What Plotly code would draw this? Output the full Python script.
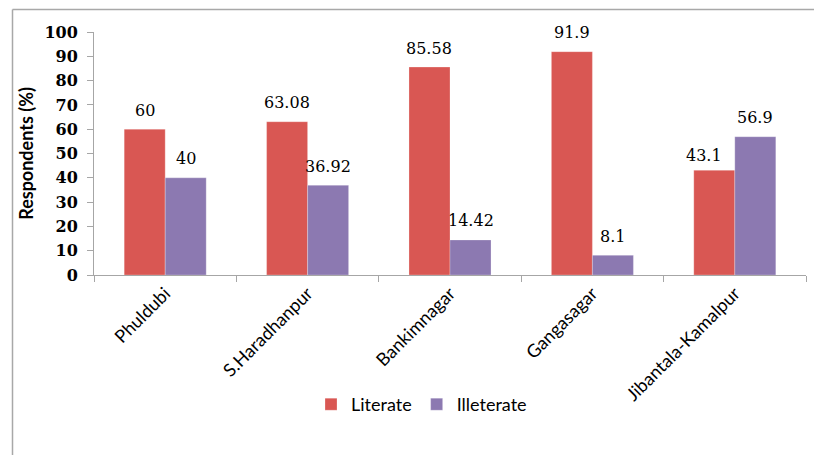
import plotly.graph_objects as go

categories = ["Phuldubi", "S.Haradhanpur", "Bankimnagar", "Gangasagar", "Jibantala-Kamalpur"]
literate = [60, 63.08, 85.58, 91.9, 43.1]
illiterate = [40, 36.92, 14.42, 8.1, 56.9]
literate_labels = ["60", "63.08", "85.58", "91.9", "43.1"]
illiterate_labels = ["40", "36.92", "14.42", "8.1", "56.9"]
series_names = ["Literate", "Illeterate"]
y_ticks = list(range(0, 101, 10))

RED = "#D95753"
PURPLE = "#8C79B1"
W, H = 814, 455
ML, MR, MT, MB = 94, 8, 32, 180
PW, PH = W - ML - MR, H - MT - MB

fig = go.Figure()
fig.add_trace(go.Bar(x=categories, y=literate, name=series_names[0],
                     marker=dict(color=RED, line=dict(color="rgba(255,255,255,0.5)", width=0.5))))
fig.add_trace(go.Bar(x=categories, y=illiterate, name=series_names[1],
                     marker=dict(color=PURPLE, line=dict(color="rgba(255,255,255,0.5)", width=0.5))))

bar_px = PW / len(categories) * (1 - 0.424) / 2
annotations = []
for i, c in enumerate(categories):
    dx = -10 if (literate[i] < illiterate[i]) else 0
    annotations.append(dict(x=c, y=literate[i], text=literate_labels[i], showarrow=False,
                            xshift=-bar_px / 2 + dx, yshift=19 if dx == 0 else 15,
                            yanchor="middle", xanchor="center",
                            font=dict(family="DejaVu Serif", size=16, color="black")))
    annotations.append(dict(x=c, y=illiterate[i], text=illiterate_labels[i], showarrow=False,
                            xshift=bar_px / 2, yshift=19, yanchor="middle", xanchor="center",
                            font=dict(family="DejaVu Serif", size=16, color="black")))

# outer chart frame (top and left edges)
fx0 = (12.5 - ML) / PW
fy1 = 1 + (MT - 9.5) / PH
fy0 = -(H - MT - PH) / PH - 0.01
shapes = [
    dict(type="line", xref="paper", yref="paper", x0=fx0, x1=(W - ML) / PW + 0.01, y0=fy1, y1=fy1,
         line=dict(color="#A8A8A8", width=1.5)),
    dict(type="line", xref="paper", yref="paper", x0=fx0, x1=fx0, y0=fy0, y1=fy1,
         line=dict(color="#A8A8A8", width=1.5)),
]

fig.update_layout(
    width=W, height=H,
    margin=dict(l=ML, r=MR, t=MT, b=MB, pad=0),
    paper_bgcolor="white", plot_bgcolor="white",
    barmode="group", bargap=0.424, bargroupgap=0,
    showlegend=True,
    legend=dict(orientation="h", x=0.46, y=-0.533, xanchor="center", yanchor="middle",
                font=dict(family="Lato", size=18, color="black"), itemwidth=30,
                traceorder="normal"),
    annotations=annotations,
    shapes=shapes,
    xaxis=dict(type="category", tickson="boundaries", ticks="outside", ticklen=6,
               tickcolor="#A6A6A6", showline=True, linecolor="#A6A6A6", linewidth=1,
               showgrid=False, tickangle=-45,
               tickfont=dict(family="Lato", size=18, color="black")),
    yaxis=dict(range=[0, 100], tickvals=y_ticks, ticks="outside", ticklen=6,
               tickcolor="#A6A6A6", showline=True, linecolor="#A6A6A6", linewidth=1,
               showgrid=False, zeroline=False, ticklabelstandoff=6,
               tickfont=dict(family="DejaVu Serif", size=16, color="black", weight="bold"),
               title=dict(text="Respondents (%)", standoff=6,
                          font=dict(family="Lato", size=18, color="black", weight="bold"))),
)

fig.write_html("out.html")
